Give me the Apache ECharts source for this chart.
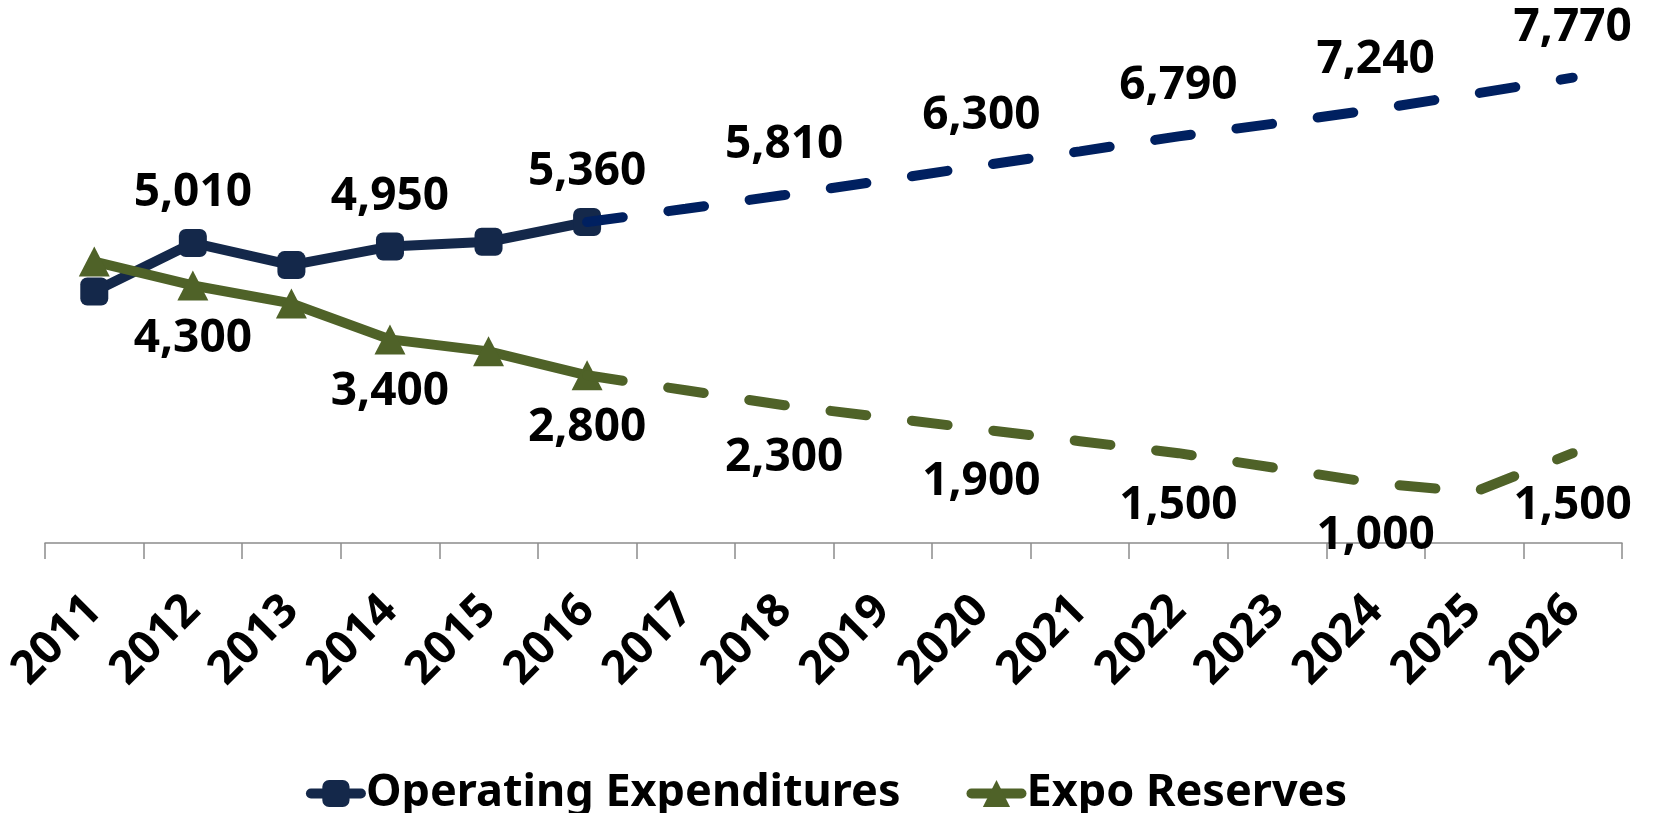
<!DOCTYPE html>
<html>
<head>
<meta charset="utf-8">
<script src="https://cdn.jsdelivr.net/npm/echarts@6/dist/echarts.min.js"></script>
<style>
  html, body { margin: 0; padding: 0; background: #fff; }
  #main { width: 1653px; height: 813px; }
</style>
</head>
<body>
<div id="main"></div>
<script>
// years on the category axis
const years = ['2011', '2012', '2013', '2014', '2015', '2016', '2017', '2018',
  '2019', '2020', '2021', '2022', '2023', '2024', '2025', '2026']
// actuals (solid) and projections (dashed), in thousands
const opexActual = [4200, 5010, 4640, 4950, 5030, 5360, null, null, null, null, null, null, null, null, null, null]
const opexProjected = [null, null, null, null, null, 5360, 5580, 5810, 6050, 6300, 6540, 6790, 7010, 7240, 7500, 7770]
const reservesActual = [4700, 4300, 4000, 3400, 3200, 2800, null, null, null, null, null, null, null, null, null, null]
const reservesProjected = [null, null, null, null, null, 2800, 2550, 2300, 2100, 1900, 1700, 1500, 1250, 1000, 850, 1500]
// only every other year gets a value label
const labelledYears = ['2012', '2014', '2016', '2018', '2020', '2022', '2024', '2026']

const font = 'Noto Sans'
const navy = '#14284a'
const navyDash = '#002060'
const olive = '#4f6228'

function labelFor (fromIndex) {
  return function (p) {
    if (p.value == null || p.dataIndex < fromIndex) return ''
    if (labelledYears.indexOf(p.name) < 0) return ''
    return Number(p.value).toLocaleString('en-US')
  }
}

function label (dy, fromIndex) {
  return {
    show: true,
    position: 'inside',
    offset: [0, dy],
    color: '#000',
    fontFamily: font,
    fontWeight: 'bold',
    fontSize: 46,
    formatter: labelFor(fromIndex)
  }
}

const chart = echarts.init(document.getElementById('main'))
chart.setOption({
  backgroundColor: '#fff',
  animation: false,
  grid: { left: 45, right: 31, top: 4, bottom: 270 },
  legend: {
    data: ['Operating Expenditures', 'Expo Reserves'],
    top: 766,
    left: 'center',
    itemWidth: 50,
    itemHeight: 34,
    itemGap: 66,
    lineStyle: { width: 10, cap: 'round' },
    textStyle: { fontFamily: font, fontWeight: 'bold', fontSize: 45, color: '#000' }
  },
  xAxis: {
    type: 'category',
    data: years,
    boundaryGap: true,
    axisLine: { lineStyle: { color: '#8c8c8c', width: 1.5 } },
    axisTick: { show: true, length: 16, lineStyle: { color: '#8c8c8c', width: 1.5 } },
    axisLabel: {
      interval: 0,
      rotate: 45,
      margin: 60,
      color: '#000',
      fontFamily: font,
      fontWeight: 'bold',
      fontSize: 46
    },
    splitLine: { show: false }
  },
  yAxis: {
    type: 'value',
    min: 0,
    max: 9000,
    show: false,
    splitLine: { show: false }
  },
  series: [{
    name: 'Operating Expenditures',
    type: 'line',
    data: opexActual,
    symbol: 'roundRect',
    symbolSize: 28,
    itemStyle: { color: navy },
    lineStyle: { color: navy, width: 10, join: 'round' },
    label: label(-50, 0),
    z: 2
  }, {
    name: 'Expo Reserves',
    type: 'line',
    data: reservesActual,
    symbol: 'triangle',
    symbolSize: [31, 30],
    itemStyle: { color: olive },
    lineStyle: { color: olive, width: 10, join: 'round' },
    label: label(53, 0),
    z: 3
  }, {
    name: 'Operating Expenditures (projected)',
    type: 'line',
    data: opexProjected,
    symbol: 'circle',
    symbolSize: 1,
    itemStyle: { color: 'rgba(0,0,0,0)' },
    lineStyle: { color: navyDash, width: 10, type: [36, 46], cap: 'round' },
    label: label(-50, 6),
    z: 4
  }, {
    name: 'Expo Reserves (projected)',
    type: 'line',
    data: reservesProjected,
    symbol: 'circle',
    symbolSize: 1,
    itemStyle: { color: 'rgba(0,0,0,0)' },
    lineStyle: { color: olive, width: 10, type: [36, 46], cap: 'round' },
    label: label(53, 6),
    z: 5
  }]
})
window.onresize = chart.resize
</script>
</body>
</html>
